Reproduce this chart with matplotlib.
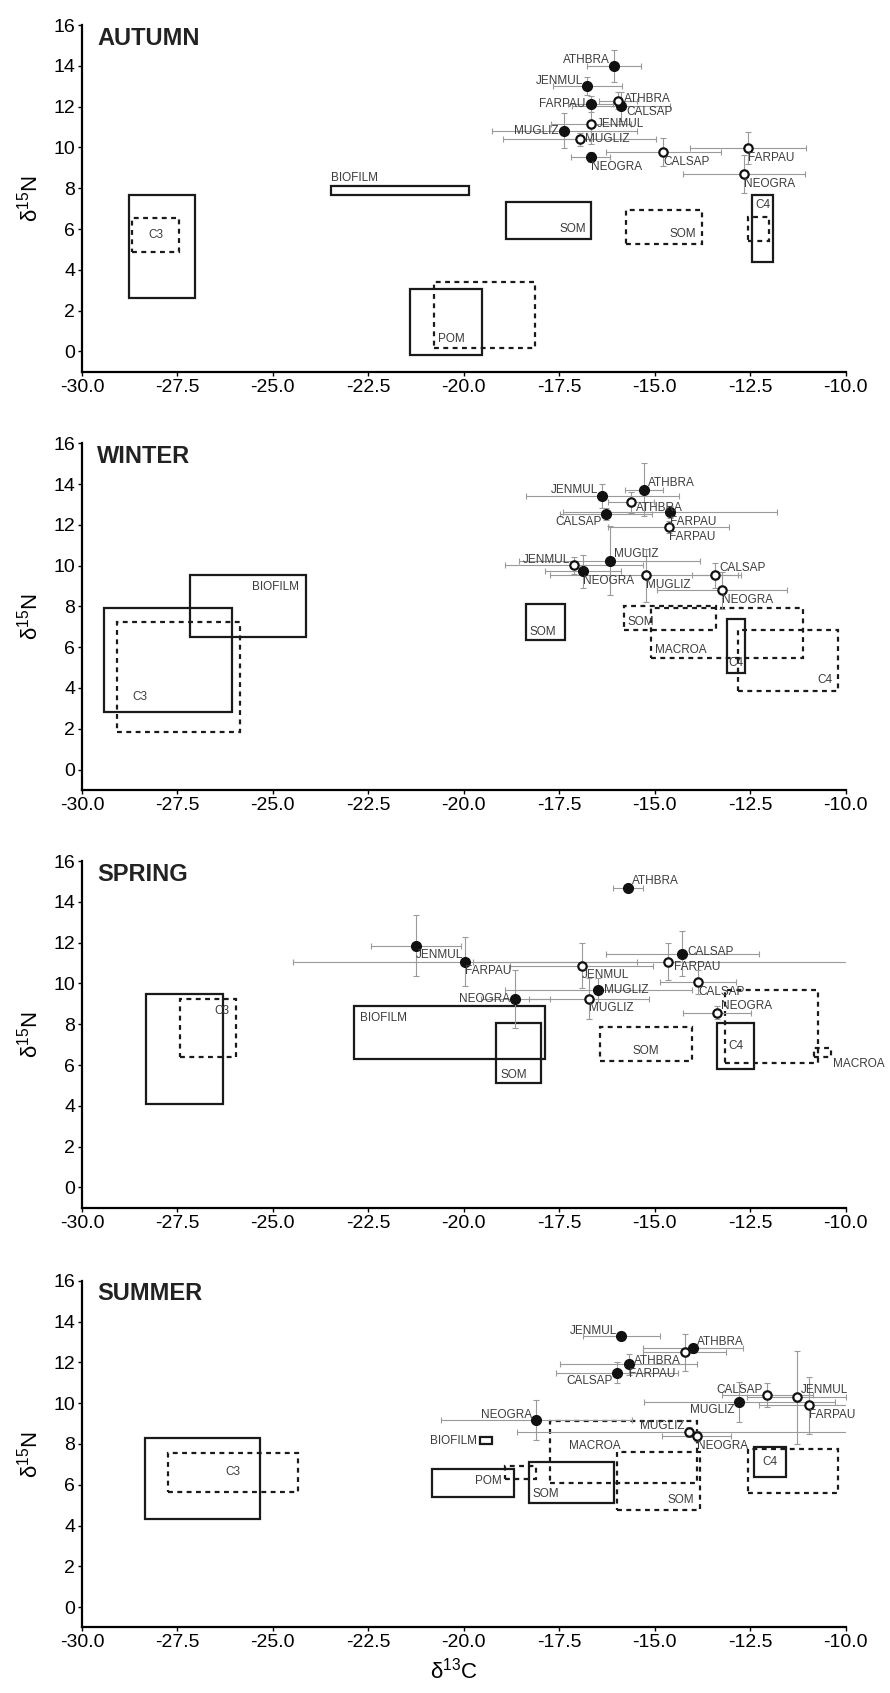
import matplotlib
matplotlib.use("Agg")
import matplotlib.pyplot as plt
from matplotlib.patches import Rectangle

plt.rcParams['font.family'] = ['Liberation Sans', 'DejaVu Sans']
plt.rcParams['mathtext.fontset'] = 'custom'
plt.rcParams['mathtext.rm'] = 'Liberation Sans'
plt.rcParams['mathtext.it'] = 'Liberation Sans:italic'

SEASONS = ['AUTUMN', 'WINTER', 'SPRING', 'SUMMER']

# ---- consumers (mean +/- sd) ----
AUT_NAMES = ['ATHBRA', 'JENMUL', 'FARPAU', 'CALSAP', 'MUGLIZ', 'NEOGRA',
             'ATHBRA', 'JENMUL', 'MUGLIZ', 'CALSAP', 'FARPAU', 'NEOGRA']
AUT_FILLED = [1, 1, 1, 1, 1, 1, 0, 0, 0, 0, 0, 0]
AUT_X = [-16.07, -16.76, -16.68, -15.88, -17.37, -16.68,
         -15.96, -16.66, -16.96, -14.77, -12.56, -12.66]
AUT_Y = [13.99, 13.00, 12.12, 12.01, 10.82, 9.52,
         12.30, 11.16, 10.39, 9.77, 9.97, 8.68]
AUT_XERR = [0.70, 0.91, 0.60, 1.29, 1.90, 0.50, 0.50, 1.05, 2.00, 1.50, 1.52, 1.60]
AUT_YERR = [0.80, 0.45, 0.40, 0.70, 0.87, 0.25, 0.40, 1.00, 0.30, 0.70, 0.80, 0.93]
AUT_LAB = ['ul', 'ul', 'l', 'rd', 'l', 'lr', 'ru', 'r', 'r', 'lr', 'lr', 'lr']

WIN_NAMES = ['ATHBRA', 'JENMUL', 'CALSAP', 'FARPAU', 'MUGLIZ', 'NEOGRA',
             'ATHBRA', 'FARPAU', 'JENMUL', 'MUGLIZ', 'CALSAP', 'NEOGRA']
WIN_FILLED = [1, 1, 1, 1, 1, 1, 0, 0, 0, 0, 0, 0]
WIN_X = [-15.28, -16.37, -16.28, -14.59, -16.18, -16.88,
         -15.63, -14.63, -17.11, -15.24, -13.42, -13.23]
WIN_Y = [13.73, 13.42, 12.54, 12.62, 10.25, 9.72,
         13.10, 11.90, 10.01, 9.52, 9.52, 8.79]
WIN_XERR = [0.50, 2.00, 1.20, 2.80, 2.37, 1.00, 0.60, 1.58, 1.80, 2.50, 0.60, 1.70]
WIN_YERR = [1.30, 0.60, 0.30, 0.30, 1.70, 0.80, 0.50, 0.30, 0.40, 1.30, 0.60, 0.90]
WIN_LAB = ['ur', 'ul', 'll', 'lr', 'ur', 'lr', 'rd', 'lr', 'ul', 'lr', 'ur', 'lr']

SPR_NAMES = ['ATHBRA', 'JENMUL', 'FARPAU', 'CALSAP', 'MUGLIZ', 'NEOGRA',
             'JENMUL', 'FARPAU', 'CALSAP', 'MUGLIZ', 'NEOGRA']
SPR_FILLED = [1, 1, 1, 1, 1, 1, 0, 0, 0, 0, 0]
SPR_X = [-15.70, -21.26, -19.96, -14.28, -16.48, -18.65,
         -16.91, -14.65, -13.86, -16.72, -13.37]
SPR_Y = [14.67, 11.85, 11.07, 11.46, 9.68, 9.24,
         10.87, 11.07, 10.07, 9.26, 8.57]
SPR_XERR = [0.40, 1.18, 4.50, 2.00, 2.45, 0.90, 1.87, 5.10, 1.00, 1.58, 0.90]
SPR_YERR = [0.15, 1.50, 1.20, 1.10, 0.60, 1.42, 1.10, 0.90, 0.60, 1.00, 0.30]
SPR_LAB = ['ur', 'lr', 'lr', 'ru', 'r', 'l', 'lr', 'rd', 'lr', 'lr', 'ur']

SUM_NAMES = ['JENMUL', 'ATHBRA', 'FARPAU', 'CALSAP', 'MUGLIZ', 'NEOGRA',
             'ATHBRA', 'CALSAP', 'JENMUL', 'FARPAU', 'MUGLIZ', 'NEOGRA']
SUM_FILLED = [1, 1, 1, 1, 1, 1, 0, 0, 0, 0, 0, 0]
SUM_X = [-15.87, -14.00, -15.68, -15.99, -12.79, -18.10,
         -14.21, -12.05, -11.28, -10.97, -14.10, -13.90]
SUM_Y = [13.28, 12.68, 11.90, 11.50, 10.06, 9.17,
         12.49, 10.39, 10.28, 9.90, 8.60, 8.38]
SUM_XERR = [1.00, 1.30, 1.80, 1.60, 2.50, 2.50, 1.09, 1.20, 1.30, 1.30, 4.50, 0.90]
SUM_YERR = [0.20, 0.20, 0.50, 0.50, 1.00, 1.00, 0.90, 0.60, 2.30, 1.40, 0.25, 0.25]
SUM_LAB = ['ul', 'ur', 'lr', 'll', 'll', 'ul', 'll', 'ul', 'ur', 'lr', 'ul', 'lr']

# ---- sources (ranges), solid / dashed boxes ----
AUT_BOX_NAMES = ['', 'C3', 'BIOFILM', 'SOM', 'SOM', '', 'POM', 'C4', '']
AUT_BOX_X0 = [-28.77, -28.69, -23.48, -18.89, -15.76, -21.40, -20.78, -12.44, -12.55]
AUT_BOX_X1 = [-27.05, -27.46, -19.87, -16.66, -13.76, -19.53, -18.14, -11.90, -12.00]
AUT_BOX_Y0 = [2.61, 4.87, 7.68, 5.49, 5.25, -0.16, 0.16, 4.40, 5.40]
AUT_BOX_Y1 = [7.68, 6.53, 8.09, 7.32, 6.91, 3.07, 3.40, 7.68, 6.60]
AUT_BOX_DASHED = [0, 1, 0, 0, 1, 0, 1, 0, 1]
AUT_BOX_POS = ['', 'c', 'above', 'br', 'br', '', 'bl', 't', '']

WIN_BOX_NAMES = ['C3', 'BIOFILM', '', 'SOM', 'SOM', 'MACROA', 'C4', 'C4']
WIN_BOX_X0 = [-29.42, -27.17, -29.08, -18.38, -15.81, -15.10, -13.11, -12.82]
WIN_BOX_X1 = [-26.07, -24.14, -25.86, -17.34, -13.39, -11.12, -12.64, -10.20]
WIN_BOX_Y0 = [2.84, 6.52, 1.85, 6.33, 6.82, 5.45, 4.72, 3.87]
WIN_BOX_Y1 = [7.91, 9.54, 7.22, 8.13, 8.03, 7.92, 7.40, 6.86]
WIN_BOX_DASHED = [0, 0, 1, 0, 1, 1, 0, 1]
WIN_BOX_POS = ['bl2', 'tr', '', 'bl', 'bl', 'bl', 'b', 'br']

SPR_BOX_NAMES = ['', 'C3', 'BIOFILM', 'SOM', 'SOM', 'C4', '', 'MACROA']
SPR_BOX_X0 = [-28.33, -27.42, -22.87, -19.16, -16.43, -13.37, -13.17, -10.83]
SPR_BOX_X1 = [-26.30, -25.97, -17.87, -17.97, -14.03, -12.39, -10.71, -10.39]
SPR_BOX_Y0 = [4.07, 6.38, 6.28, 5.10, 6.20, 5.80, 6.10, 6.40]
SPR_BOX_Y1 = [9.48, 9.22, 8.89, 8.06, 7.85, 8.08, 9.68, 6.84]
SPR_BOX_DASHED = [0, 1, 0, 0, 1, 0, 1, 1]
SPR_BOX_POS = ['', 'tr', 'tl', 'bl', 'b', 'c', '', 'outbr']

SUM_BOX_NAMES = ['', 'C3', 'BIOFILM', 'POM', '', 'SOM', 'MACROA', 'SOM', 'C4', '']
SUM_BOX_X0 = [-28.35, -27.74, -19.58, -20.84, -18.92, -18.30, -17.75, -15.99, -12.41, -12.55]
SUM_BOX_X1 = [-25.35, -24.35, -19.27, -18.68, -18.11, -16.07, -13.90, -13.82, -11.56, -10.20]
SUM_BOX_Y0 = [4.30, 5.64, 7.98, 5.38, 6.26, 5.11, 6.09, 4.75, 6.39, 5.60]
SUM_BOX_Y1 = [8.29, 7.56, 8.35, 6.76, 6.91, 7.12, 9.13, 7.61, 7.83, 7.73]
SUM_BOX_DASHED = [0, 1, 0, 0, 1, 0, 1, 1, 0, 1]
SUM_BOX_POS = ['', 'c', 'left', 'r', '', 'bl', 'tl2', 'br', 'c', '']

X_TICKS = [-30.0, -27.5, -25.0, -22.5, -20.0, -17.5, -15.0, -12.5, -10.0]
Y_TICKS = [0, 2, 4, 6, 8, 10, 12, 14, 16]

# label placement: (dx, dy) points, ha
PT_OFF = {'l': (-4, 0, 'right'), 'ul': (-3, 4, 'right'), 'll': (-3, -6, 'right'),
          'r': (4, 0, 'left'), 'ru': (4, 1, 'left'), 'rd': (4, -4, 'left'),
          'ur': (3, 5, 'left'), 'lr': (0, -7, 'left')}
# box label: (fx, fy, dx, dy, ha, va)
BOX_OFF = {'c': (0.5, 0.5, 0, 0, 'center', 'center'),
           'bl': (0, 0, 3, 2, 'left', 'bottom'),
           'bl2': (0, 0, 20, 6, 'left', 'bottom'),
           'br': (1, 0, -4, 3, 'right', 'bottom'),
           'b': (0.5, 0, 0, 3, 'center', 'bottom'),
           'tl': (0, 1, 4, -4, 'left', 'top'),
           'tl2': (0, 1, 14, -14, 'left', 'top'),
           'tr': (1, 1, -5, -4, 'right', 'top'),
           't': (0.5, 1, 0, -3, 'center', 'top'),
           'above': (0, 1, 0, 2, 'left', 'bottom'),
           'left': (0, 0.5, -2, 0, 'right', 'center'),
           'r': (1, 0.5, -9, 2, 'right', 'center'),
           'outbr': (1, 0, 2, -1, 'left', 'top')}

TXT = '#3c3c3c'
LAB_SIZE = 8.5


def draw_panel(ax, season, names, filled, x, y, xerr, yerr, lab,
               bnames, bx0, bx1, by0, by1, bdash, bpos):
    for i in range(len(bnames)):
        ls = (0, (2.2, 2.0)) if bdash[i] else '-'
        ax.add_patch(Rectangle((bx0[i], by0[i]), bx1[i] - bx0[i], by1[i] - by0[i],
                               fill=False, ec='#1a1a1a', lw=1.6, ls=ls, zorder=2))
        if bnames[i]:
            fx, fy, dx, dy, ha, va = BOX_OFF[bpos[i]]
            ax.annotate(bnames[i],
                        (bx0[i] + fx * (bx1[i] - bx0[i]), by0[i] + fy * (by1[i] - by0[i])),
                        xytext=(dx, dy), textcoords='offset points',
                        ha=ha, va=va, fontsize=LAB_SIZE, color=TXT, zorder=5)

    ax.errorbar(x, y, xerr=xerr, yerr=yerr, fmt='none', ecolor='#9a9a9a',
                elinewidth=0.8, capsize=2.5, capthick=0.8, zorder=3)
    for i in range(len(names)):
        if filled[i]:
            ax.plot(x[i], y[i], 'o', ms=7, mfc='#111111', mec='#111111', zorder=4)
        else:
            ax.plot(x[i], y[i], 'o', ms=6, mfc='white', mec='#111111', mew=1.6, zorder=4)
        dx, dy, ha = PT_OFF[lab[i]]
        ax.annotate(names[i], (x[i], y[i]), xytext=(dx, dy), textcoords='offset points',
                    ha=ha, va='center', fontsize=LAB_SIZE, color=TXT, zorder=5)

    ax.set_xlim(-30, -10)
    ax.set_ylim(-1, 16)
    ax.set_xticks(X_TICKS)
    ax.set_xticklabels([f'{v:.1f}' for v in X_TICKS], fontsize=14)
    ax.set_yticks(Y_TICKS)
    ax.set_yticklabels([str(v) for v in Y_TICKS], fontsize=14)
    for s in ['top', 'right']:
        ax.spines[s].set_visible(False)
    for s in ['left', 'bottom']:
        ax.spines[s].set_linewidth(1.6)
    ax.tick_params(length=3, width=1, pad=2)
    ax.text(0.02, 0.995, season, transform=ax.transAxes, ha='left', va='top',
            fontsize=17, fontweight='bold', color='#222222')


fig = plt.figure(figsize=(8.9, 16.93), dpi=100)
bottoms = [0.7804, 0.5334, 0.2866, 0.0387]
panels = [
    (AUT_NAMES, AUT_FILLED, AUT_X, AUT_Y, AUT_XERR, AUT_YERR, AUT_LAB,
     AUT_BOX_NAMES, AUT_BOX_X0, AUT_BOX_X1, AUT_BOX_Y0, AUT_BOX_Y1, AUT_BOX_DASHED, AUT_BOX_POS),
    (WIN_NAMES, WIN_FILLED, WIN_X, WIN_Y, WIN_XERR, WIN_YERR, WIN_LAB,
     WIN_BOX_NAMES, WIN_BOX_X0, WIN_BOX_X1, WIN_BOX_Y0, WIN_BOX_Y1, WIN_BOX_DASHED, WIN_BOX_POS),
    (SPR_NAMES, SPR_FILLED, SPR_X, SPR_Y, SPR_XERR, SPR_YERR, SPR_LAB,
     SPR_BOX_NAMES, SPR_BOX_X0, SPR_BOX_X1, SPR_BOX_Y0, SPR_BOX_Y1, SPR_BOX_DASHED, SPR_BOX_POS),
    (SUM_NAMES, SUM_FILLED, SUM_X, SUM_Y, SUM_XERR, SUM_YERR, SUM_LAB,
     SUM_BOX_NAMES, SUM_BOX_X0, SUM_BOX_X1, SUM_BOX_Y0, SUM_BOX_Y1, SUM_BOX_DASHED, SUM_BOX_POS),
]
for k, season in enumerate(SEASONS):
    ax = fig.add_axes([0.0921, bottoms[k], 0.858, 0.2048])
    draw_panel(ax, season, *panels[k])
    fig.text(0.0335, bottoms[k] + 0.1024, 'δ$^{15}$N', rotation=90,
             ha='center', va='center', fontsize=16)

fig.text(0.51, 0.013, 'δ$^{13}$C', ha='center', va='center', fontsize=16)

fig.savefig('out.png', dpi=100)
